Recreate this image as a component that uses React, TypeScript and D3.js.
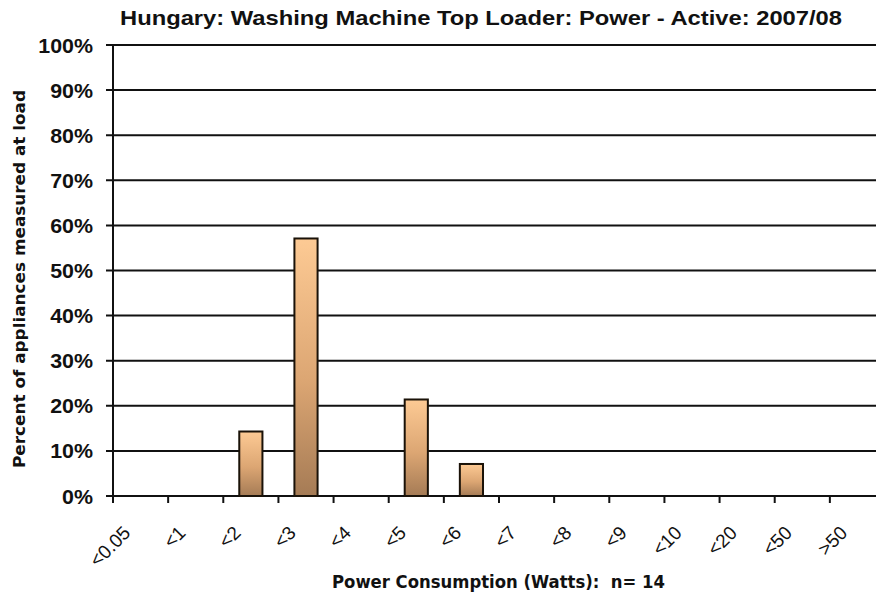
import * as d3 from 'd3';
import { useRef, useEffect } from 'react';

const categories = ['<0.05', '<1', '<2', '<3', '<4', '<5', '<6', '<7', '<8', '<9', '<10', '<20', '<50', '>50'];
const percents = [0, 0, 14.3, 57.1, 0, 21.4, 7.1, 0, 0, 0, 0, 0, 0, 0];
const yTicks = [0, 10, 20, 30, 40, 50, 60, 70, 80, 90, 100];

const W = 876;
const H = 596;

const BarChart = () => {
  const svgRef = useRef<SVGSVGElement>(null);

  useEffect(() => {
    const svg = d3.select(svgRef.current);
    svg.selectAll('*').remove();

    const left = 113;
    const right = 885; // the plot runs past the picture's right edge
    const top = 45;
    const bottom = 496;

    const x = d3.scaleBand().domain(categories).range([left, right]).paddingInner(0.58).paddingOuter(0.29);
    const xEdge = d3.scaleLinear().domain([0, categories.length]).range([left, right]);
    const y = d3.scaleLinear().domain([0, 100]).range([bottom, top]);

    const defs = svg.append('defs');
    const grad = defs.append('linearGradient').attr('id', 'barFill').attr('x1', 0).attr('y1', 0).attr('x2', 0).attr('y2', 1);
    grad.append('stop').attr('offset', '0%').attr('stop-color', '#fdca94');
    grad.append('stop').attr('offset', '55%').attr('stop-color', '#dca673');
    grad.append('stop').attr('offset', '100%').attr('stop-color', '#a57b55');

    svg.append('rect').attr('width', W).attr('height', H).attr('fill', '#fff');

    // title
    svg
      .append('text')
      .attr('x', 481)
      .attr('y', 25)
      .attr('text-anchor', 'middle')
      .attr('font-family', 'Liberation Sans, Arial, sans-serif')
      .attr('font-weight', 'bold')
      .attr('font-size', 21)
      .attr('textLength', 722)
      .attr('lengthAdjust', 'spacingAndGlyphs')
      .attr('fill', '#111')
      .text('Hungary: Washing Machine Top Loader: Power - Active: 2007/08');

    // gridlines
    svg
      .append('g')
      .selectAll('line')
      .data(yTicks)
      .join('line')
      .attr('x1', left - 7)
      .attr('x2', W)
      .attr('y1', (d) => y(d))
      .attr('y2', (d) => y(d))
      .attr('stroke', '#111')
      .attr('stroke-width', 2);

    // y tick labels
    svg
      .append('g')
      .selectAll('text')
      .data(yTicks)
      .join('text')
      .attr('transform', (d) => `translate(93,${y(d) + 7.5}) scale(1.07,1)`)
      .attr('text-anchor', 'end')
      .attr('font-family', 'Liberation Sans, Arial, sans-serif')
      .attr('font-weight', 'bold')
      .attr('font-size', 20)
      .attr('fill', '#111')
      .text((d) => d + '%');

    // bars
    svg
      .append('g')
      .selectAll('rect')
      .data(percents.map((p, i) => ({ cat: categories[i], p })).filter((d) => d.p > 0))
      .join('rect')
      .attr('x', (d) => x(d.cat)!)
      .attr('y', (d) => y(d.p))
      .attr('width', x.bandwidth())
      .attr('height', (d) => bottom - y(d.p))
      .attr('fill', 'url(#barFill)')
      .attr('stroke', '#1a1208')
      .attr('stroke-width', 2);

    // axes lines
    svg.append('line').attr('x1', left).attr('x2', left).attr('y1', top).attr('y2', bottom + 7).attr('stroke', '#111').attr('stroke-width', 2);
    svg
      .append('g')
      .selectAll('line')
      .data(d3.range(categories.length + 1))
      .join('line')
      .attr('x1', (i) => xEdge(i))
      .attr('x2', (i) => xEdge(i))
      .attr('y1', bottom)
      .attr('y2', bottom + 7)
      .attr('stroke', '#111')
      .attr('stroke-width', 2);

    // x tick labels
    svg
      .append('g')
      .selectAll('text')
      .data(categories)
      .join('text')
      .attr('transform', (d) => `translate(${x(d)! + x.bandwidth() / 2 - 9},${bottom + 38}) rotate(-45)`)
      .attr('text-anchor', 'end')
      .attr('font-family', 'Liberation Sans, Arial, sans-serif')
      .attr('font-size', 19)
      .attr('fill', '#111')
      .text((d) => d);

    // axis titles
    svg
      .append('text')
      .attr('x', 498.5)
      .attr('y', 588)
      .attr('text-anchor', 'middle')
      .attr('font-family', 'DejaVu Sans, Verdana, sans-serif')
      .attr('font-weight', 'bold')
      .attr('font-size', 17)
      .attr('textLength', 333)
      .attr('lengthAdjust', 'spacingAndGlyphs')
      .attr('fill', '#111')
      .attr('xml:space', 'preserve')
      .text('Power Consumption (Watts):  n= 14');

    svg
      .append('text')
      .attr('transform', 'translate(25,279) rotate(-90)')
      .attr('text-anchor', 'middle')
      .attr('font-family', 'DejaVu Sans, Verdana, sans-serif')
      .attr('font-weight', 'bold')
      .attr('font-size', 16)
      .attr('textLength', 378)
      .attr('lengthAdjust', 'spacingAndGlyphs')
      .attr('fill', '#111')
      .text('Percent of appliances measured at load');
  }, []);

  return <svg ref={svgRef} width={W} height={H} style={{ position: 'absolute', left: 0, top: 0 }} />;
};

export default function App() {
  return <BarChart />;
}
